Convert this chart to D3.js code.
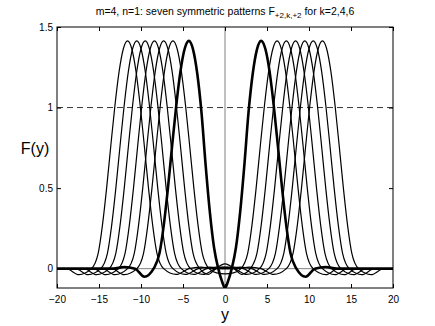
<!DOCTYPE html>
<html>
<head>
<meta charset="utf-8">
<script src="https://cdn.jsdelivr.net/npm/d3@7"></script>
<style>
  body { margin: 0; background: #fff; }
  text { font-family: "Liberation Sans", Arial, Helvetica, sans-serif; }
</style>
</head>
<body>
<svg width="435" height="326"></svg>
<script>
// half patterns (y >= 0), each pattern is symmetric in y
var thick = [[0,-0.12],[0.35,-0.08],[0.8,0],[1.3,0.13],[1.8,0.35],[2.3,0.64],[2.8,0.97],[3.3,1.21],[3.8,1.36],[4.3,1.414],[4.8,1.365],[5.3,1.226],[5.8,1.014],[6.3,0.76],[6.8,0.497],[7.3,0.266],[7.8,0.095],[8.5,0],[9.6,-0.05],[10.7,0],[12,0.01],[13.3,0],[20,0]];

var p1 = [[0,-0.032],[1.0,-0.026],[1.9,0],[2.7,0.095],[3.2,0.266],[3.7,0.497],[4.2,0.76],[4.7,1.014],[5.2,1.226],[5.7,1.365],[6.2,1.414],[6.7,1.365],[7.2,1.226],[7.7,1.014],[8.2,0.76],[8.7,0.497],[9.2,0.266],[9.7,0.095],[10.5,0],[12.0,-0.037],[13.5,0],[20,0]];
var p2 = [[0,0.03],[0.5,0.021],[1.1,0],[2.0,-0.035],[3.0,0],[3.8,0.095],[4.3,0.266],[4.8,0.497],[5.3,0.76],[5.8,1.014],[6.3,1.226],[6.8,1.365],[7.3,1.414],[7.8,1.365],[8.3,1.226],[8.8,1.014],[9.3,0.76],[9.8,0.497],[10.3,0.266],[10.8,0.095],[11.6,0],[13.1,-0.037],[14.6,0],[20,0]];
var p3 = [[0,0.008],[1.1,0],[2.6,-0.036],[4.1,0],[4.9,0.095],[5.4,0.266],[5.9,0.497],[6.4,0.76],[6.9,1.014],[7.4,1.226],[7.9,1.365],[8.4,1.414],[8.9,1.365],[9.4,1.226],[9.9,1.014],[10.4,0.76],[10.9,0.497],[11.4,0.266],[11.9,0.095],[12.7,0],[14.2,-0.037],[15.7,0],[20,0]];
var p4 = [[0,0.01],[1.0,0.01],[2.2,0],[3.7,-0.036],[5.2,0],[6.0,0.095],[6.5,0.266],[7.0,0.497],[7.5,0.76],[8.0,1.014],[8.5,1.226],[9.0,1.365],[9.5,1.414],[10.0,1.365],[10.5,1.226],[11.0,1.014],[11.5,0.76],[12.0,0.497],[12.5,0.266],[13.0,0.095],[13.8,0],[15.3,-0.037],[16.8,0],[20,0]];
var p5 = [[0,0],[0.5,0],[1.8,0.01],[3.2,0],[4.7,-0.036],[6.2,0],[7.0,0.095],[7.5,0.266],[8.0,0.497],[8.5,0.76],[9.0,1.014],[9.5,1.226],[10.0,1.365],[10.5,1.414],[11.0,1.365],[11.5,1.226],[12.0,1.014],[12.5,0.76],[13.0,0.497],[13.5,0.266],[14.0,0.095],[14.8,0],[16.3,-0.037],[17.8,0],[20,0]];
var p6 = [[0,0],[1.5,0],[2.9,0.01],[4.3,0],[5.8,-0.036],[7.3,0],[8.1,0.095],[8.6,0.266],[9.1,0.497],[9.6,0.76],[10.1,1.014],[10.6,1.226],[11.1,1.365],[11.6,1.414],[12.1,1.365],[12.6,1.226],[13.1,1.014],[13.6,0.76],[14.1,0.497],[14.6,0.266],[15.1,0.095],[15.9,0],[17.4,-0.037],[18.9,0],[20,0]];

var thinPatterns = [p1, p2, p3, p4, p5, p6];
var xTicks = [-20, -15, -10, -5, 0, 5, 10, 15, 20];
var yTicks = [0, 0.5, 1, 1.5];

var svg = d3.select("svg"),
    plotL = 57, plotR = 393, plotT = 27, plotB = 288;

var x = d3.scaleLinear().domain([-20, 20]).range([plotL, plotR]),
    y = d3.scaleLinear().domain([-0.12, 1.5]).range([plotB, plotT]);

function mirror(half) {
    var neg = half.slice(1).map(function(d) { return [-d[0], d[1]]; }).reverse();
    return neg.concat(half);
}

var line = d3.line()
    .curve(d3.curveMonotoneX)
    .x(function(d) { return x(d[0]); })
    .y(function(d) { return y(d[1]); });

svg.append("clipPath").attr("id", "clip")
    .append("rect")
    .attr("x", plotL).attr("y", plotT)
    .attr("width", plotR - plotL).attr("height", plotB - plotT);

// reference lines
svg.append("line")
    .attr("x1", x(0)).attr("x2", x(0)).attr("y1", plotT).attr("y2", plotB)
    .attr("stroke", "#808080").attr("stroke-width", 1);
svg.append("line")
    .attr("x1", plotL).attr("x2", plotR).attr("y1", y(0)).attr("y2", y(0))
    .attr("stroke", "#808080").attr("stroke-width", 1);
svg.append("line")
    .attr("x1", plotL).attr("x2", plotR).attr("y1", y(1)).attr("y2", y(1))
    .attr("stroke", "#000").attr("stroke-width", 0.8)
    .attr("stroke-dasharray", "6,4");

var plot = svg.append("g").attr("clip-path", "url(#clip)");

plot.selectAll(".thin").data(thinPatterns)
    .enter().append("path")
    .attr("class", "thin")
    .attr("fill", "none")
    .attr("stroke", "#000")
    .attr("stroke-width", 1.2)
    .attr("d", function(d) { return line(mirror(d)); });

plot.append("path")
    .attr("fill", "none")
    .attr("stroke", "#000")
    .attr("stroke-width", 2.6)
    .attr("d", line(mirror(thick)));

// axes, ticks inward on all four sides
function styleAxis(g) {
    g.select(".domain").remove();
    g.selectAll("line").attr("stroke", "#000");
    g.selectAll("text").attr("font-size", 10).attr("fill", "#000")
        .style("font-family", "'Liberation Sans', Arial, Helvetica, sans-serif");
}
var fmtX = function(d) { return d < 0 ? "\u2212" + Math.abs(d) : d; };

svg.append("g").attr("transform", "translate(0," + plotB + ")")
    .call(d3.axisBottom(x).tickValues(xTicks).tickSize(-4).tickPadding(8).tickFormat(fmtX))
    .call(styleAxis);
svg.append("g").attr("transform", "translate(0," + plotT + ")")
    .call(d3.axisTop(x).tickValues(xTicks).tickSize(-4).tickFormat(""))
    .call(styleAxis);
svg.append("g").attr("transform", "translate(" + plotL + ",0)")
    .call(d3.axisLeft(y).tickValues(yTicks).tickSize(-4).tickPadding(4).tickFormat(function(d) { return d; }))
    .call(styleAxis);
svg.append("g").attr("transform", "translate(" + plotR + ",0)")
    .call(d3.axisRight(y).tickValues(yTicks).tickSize(-4).tickFormat(""))
    .call(styleAxis);

svg.append("rect")
    .attr("x", plotL).attr("y", plotT)
    .attr("width", plotR - plotL).attr("height", plotB - plotT)
    .attr("fill", "none").attr("stroke", "#000").attr("stroke-width", 1);

// labels
var title = svg.append("text")
    .attr("x", 225).attr("y", 15)
    .attr("text-anchor", "middle")
    .attr("font-size", 10.5);
title.append("tspan").text("m=4, n=1: seven symmetric patterns F");
title.append("tspan").attr("dy", 3).attr("font-size", 8).text("+2,k,+2");
title.append("tspan").attr("dy", -3).text(" for k=2,4,6");

svg.append("text")
    .attr("x", 35).attr("y", 154)
    .attr("text-anchor", "middle")
    .attr("font-size", 16)
    .text("F(y)");

svg.append("text")
    .attr("x", 225).attr("y", 320)
    .attr("text-anchor", "middle")
    .attr("font-size", 16)
    .text("y");
</script>
</body>
</html>
